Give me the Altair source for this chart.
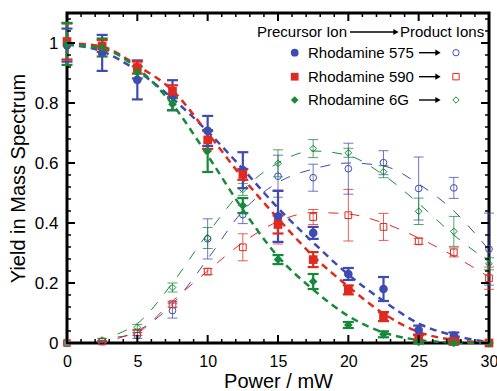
import altair as alt
import pandas as pd

# ---------------- data ----------------
POWER = [0, 2.5, 5, 7.5, 10, 12.5, 15, 17.5, 20, 22.5, 25, 27.5, 30]
SERIES = ["Rhodamine 575", "Rhodamine 590", "Rhodamine 6G"]
COLORS = ["#3f4bb4", "#e02a1f", "#178a3a"]
SHAPES = ["circle", "square", "diamond"]

# precursor ions (filled markers)
pre_575 = [0.993, 0.967, 0.877, 0.826, 0.707, 0.576, 0.422, 0.367, 0.230, 0.180, 0.043, 0.025, 0.0]
pre_575_err = [0.055, 0.06, 0.065, 0.05, 0.05, 0.06, 0.085, 0.02, 0.02, 0.04, 0.015, 0.01, 0.0]
pre_590 = [1.005, 0.99, 0.918, 0.839, 0.677, 0.562, 0.395, 0.278, 0.177, 0.088, 0.016, 0.005, 0.0]
pre_590_err = [0.06, 0.02, 0.02, 0.02, 0.03, 0.018, 0.03, 0.025, 0.015, 0.015, 0.01, 0.005, 0.0]
pre_6g = [0.997, 0.985, 0.902, 0.796, 0.640, 0.458, 0.278, 0.205, 0.060, 0.029, 0.004, 0.0, 0.0]
pre_6g_err = [0.07, 0.03, 0.02, 0.02, 0.07, 0.025, 0.015, 0.025, 0.01, 0.01, 0.005, 0.005, 0.0]

# product ions (open markers)
pro_575 = [0.0, 0.005, 0.025, 0.108, 0.347, 0.428, 0.556, 0.551, 0.581, 0.601, 0.515, 0.517, 0.313]
pro_575_err = [0.0, 0.003, 0.01, 0.025, 0.067, 0.03, 0.07, 0.045, 0.085, 0.04, 0.105, 0.035, 0.12]
pro_590 = [0.0, 0.005, 0.035, 0.129, 0.238, 0.319, 0.42, 0.42, 0.426, 0.387, 0.339, 0.302, 0.216]
pro_590_err = [0.0, 0.003, 0.01, 0.01, 0.01, 0.045, 0.09, 0.025, 0.086, 0.045, 0.01, 0.015, 0.037]
pro_6g = [0.0, 0.01, 0.052, 0.185, 0.35, 0.512, 0.599, 0.648, 0.634, 0.571, 0.439, 0.372, 0.264]
pro_6g_err = [0.0, 0.005, 0.01, 0.015, 0.035, 0.02, 0.045, 0.03, 0.015, 0.02, 0.044, 0.05, 0.02]

# fitted curves (dashed)
FIT_PRE_X = [0, 2.5, 5, 7.5, 10, 12.5, 15, 17.5, 20, 22.5, 25, 27.5, 30]
fit_pre_575 = [0.995, 0.972, 0.907, 0.815, 0.705, 0.58, 0.45, 0.335, 0.228, 0.14, 0.065, 0.025, 0.003]
fit_pre_590 = [1.0, 0.988, 0.924, 0.842, 0.70, 0.55, 0.415, 0.29, 0.188, 0.098, 0.037, 0.01, 0.002]
fit_pre_6g = [0.995, 0.982, 0.916, 0.795, 0.625, 0.445, 0.288, 0.178, 0.09, 0.035, 0.01, 0.002, 0.0]
FIT_PRO_X = [3.6, 5, 7.5, 10, 12.5, 15, 17.5, 20, 22.5, 25, 27.5, 30]
fit_pro_575 = [0.015, 0.04, 0.13, 0.28, 0.44, 0.535, 0.58, 0.6, 0.59, 0.53, 0.44, 0.31]
fit_pro_590 = [0.02, 0.035, 0.14, 0.24, 0.335, 0.405, 0.435, 0.43, 0.40, 0.35, 0.29, 0.22]
fit_pro_6g = [0.03, 0.065, 0.2, 0.365, 0.51, 0.6, 0.64, 0.625, 0.56, 0.465, 0.36, 0.27]

# axis ticks
X_MAJOR = [0, 5, 10, 15, 20, 25, 30]
X_MINOR = [v for v in range(1, 30) if v % 5 != 0]
Y_MAJOR = [0, 0.2, 0.4, 0.6, 0.8, 1.0]
Y_MINOR = [round(i * 0.04, 2) for i in range(1, 28) if i % 5 != 0]

LEGEND_HEAD = ["Precursor Ion", "Product Ions"]
X_TITLE = "Power / mW"
Y_TITLE = "Yield in Mass Spectrum"

# ---------------- tables ----------------
def points(vals, errs, name):
    return pd.DataFrame({"x": POWER, "y": vals, "err": errs, "series": name})

pre = pd.concat([points(pre_575, pre_575_err, SERIES[0]),
                 points(pre_590, pre_590_err, SERIES[1]),
                 points(pre_6g, pre_6g_err, SERIES[2])], ignore_index=True)
pro = pd.concat([points(pro_575, pro_575_err, SERIES[0]),
                 points(pro_590, pro_590_err, SERIES[1]),
                 points(pro_6g, pro_6g_err, SERIES[2])], ignore_index=True)
for d in (pre, pro):
    d["lo"] = d["y"] - d["err"]
    d["hi"] = d["y"] + d["err"]

def fit(xs, vals, name):
    return pd.DataFrame({"x": xs, "y": vals, "series": name})

fpre = pd.concat([fit(FIT_PRE_X, fit_pre_575, SERIES[0]),
                  fit(FIT_PRE_X, fit_pre_590, SERIES[1]),
                  fit(FIT_PRE_X, fit_pre_6g, SERIES[2])], ignore_index=True)
fpro = pd.concat([fit(FIT_PRO_X, fit_pro_575, SERIES[0]),
                  fit(FIT_PRO_X, fit_pro_590, SERIES[1]),
                  fit(FIT_PRO_X, fit_pro_6g, SERIES[2])], ignore_index=True)

W, H = 422, 330
FONT = "Liberation Sans"
xs = alt.Scale(domain=[0, 30], nice=False, zero=False)
ys = alt.Scale(domain=[0, 1.1], nice=False, zero=False)
col = alt.Color("series:N", scale=alt.Scale(domain=SERIES, range=COLORS), legend=None)
shp = alt.Shape("series:N", scale=alt.Scale(domain=SERIES, range=SHAPES), legend=None)

XAX = alt.Axis(values=X_MAJOR, format="d", ticks=False, domain=False, grid=False,
               labelFlush=False, labelBound=False, labelOverlap=False,
               labelPadding=10, titlePadding=2, labelFont=FONT, titleFont=FONT,
               labelFontSize=16, titleFontSize=20, titleFontWeight="normal",
               labelColor="black", titleColor="black")
YAX = alt.Axis(values=Y_MAJOR, format="~g", ticks=False, domain=False, grid=False,
               labelFlush=False, labelOverlap=False,
               labelPadding=9, titlePadding=6, labelFont=FONT, titleFont=FONT,
               labelFontSize=17, titleFontSize=20, titleFontWeight="normal",
               labelColor="black", titleColor="black")


def X(f="x"):
    return alt.X(f"{f}:Q", scale=xs, axis=XAX, title=X_TITLE)


def Y(f="y"):
    return alt.Y(f"{f}:Q", scale=ys, axis=YAX, title=Y_TITLE)


def cap(data, field, size, sw, op):
    return data.mark_point(shape="stroke", size=size, strokeWidth=sw, opacity=op, filled=False).encode(
        x=X(), y=Y(field), color=col)


layers = []
# product curves (thin long dashes)
layers.append(alt.Chart(fpro).mark_line(strokeWidth=1, strokeDash=[10, 11], interpolate="monotone")
              .encode(x=X(), y=Y(), color=col, detail="series:N"))
# product error bars
pro_f = alt.Chart(pro).transform_filter("datum.err > 0")
layers.append(pro_f.mark_rule(strokeWidth=1, opacity=0.75).encode(x=X(), y=Y("lo"), y2="hi:Q", color=col))
layers.append(cap(pro_f, "lo", 100, 1, 0.75))
layers.append(cap(pro_f, "hi", 100, 1, 0.75))
layers.append(alt.Chart(pro).mark_point(filled=False, size=45, strokeWidth=1, opacity=1)
              .encode(x=X(), y=Y(), color=col, shape=shp))
# precursor curves (thick short dashes)
layers.append(alt.Chart(fpre).mark_line(strokeWidth=2.5, strokeDash=[7, 5], interpolate="monotone")
              .encode(x=X(), y=Y(), color=col, detail="series:N"))
# precursor error bars
pre_f = alt.Chart(pre).transform_filter("datum.err > 0")
layers.append(pre_f.mark_rule(strokeWidth=2.2).encode(x=X(), y=Y("lo"), y2="hi:Q", color=col))
layers.append(cap(pre_f, "lo", 121, 2.2, 1))
layers.append(cap(pre_f, "hi", 121, 2.2, 1))
layers.append(alt.Chart(pre).mark_point(filled=True, size=75, opacity=1)
              .encode(x=X(), y=Y(), color=col, shape=shp))

# inward frame ticks
xmaj = pd.DataFrame({"x": X_MAJOR})
xmin = pd.DataFrame({"x": X_MINOR})
ymaj = pd.DataFrame({"y": Y_MAJOR})
ymin = pd.DataFrame({"y": Y_MINOR})
for df, L, sw in ((xmaj, 8, 2), (xmin, 4, 1.5)):
    layers.append(alt.Chart(df).mark_rule(color="black", strokeWidth=sw)
                  .encode(x=X(), y=alt.value(H), y2=alt.value(H - L)))
    layers.append(alt.Chart(df).mark_rule(color="black", strokeWidth=sw)
                  .encode(x=X(), y=alt.value(0), y2=alt.value(L)))
for df, L, sw in ((ymaj, 8, 2), (ymin, 4, 1.5)):
    layers.append(alt.Chart(df).mark_rule(color="black", strokeWidth=sw)
                  .encode(y=Y(), x=alt.value(0), x2=alt.value(L)))
    layers.append(alt.Chart(df).mark_rule(color="black", strokeWidth=sw)
                  .encode(y=Y(), x=alt.value(W), x2=alt.value(W - L)))

# ---------------- custom legend ----------------
one = pd.DataFrame({"k": [0]})


def txt(s, x, y, size=15):
    return alt.Chart(pd.DataFrame({"t": [s]})).mark_text(
        align="left", baseline="middle", font=FONT, fontSize=size, color="black"
    ).encode(text="t:N", x=alt.value(x), y=alt.value(y))


def arrow(x1, x2, y):
    line = alt.Chart(one).mark_rule(color="black", strokeWidth=1.4).encode(
        x=alt.value(x1), x2=alt.value(x2 - 4), y=alt.value(y))
    head = alt.Chart(one).mark_point(shape="triangle-right", filled=True, size=38, color="black",
                                     opacity=1).encode(x=alt.value(x2 - 3), y=alt.value(y))
    return [line, head]


layers.append(txt(LEGEND_HEAD[0], 190, 19))
layers += arrow(283, 332, 19)
layers.append(txt(LEGEND_HEAD[1], 333, 19))
row_y = [39.7, 63.7, 87]
for name, c, s, ry in zip(SERIES, COLORS, SHAPES, row_y):
    layers.append(alt.Chart(one).mark_point(shape=s, filled=True, size=60, color=c, opacity=1)
                  .encode(x=alt.value(227.7), y=alt.value(ry)))
    layers.append(txt(name, 241, ry))
    layers += arrow(352, 374, ry)
    layers.append(alt.Chart(one).mark_point(shape=s, filled=False, size=40, strokeWidth=1, color=c,
                                            opacity=1)
                  .encode(x=alt.value(389), y=alt.value(ry)))

chart = alt.layer(*layers).properties(
    width=W, height=H,
    background="white",
    autosize=alt.AutoSizeParams(type="none"),
    padding={"left": 67, "top": 13, "right": 8, "bottom": 48},
).configure_view(
    stroke="black", strokeWidth=3
)

chart.save("out.html", embed_options={"renderer": "svg", "actions": False})
